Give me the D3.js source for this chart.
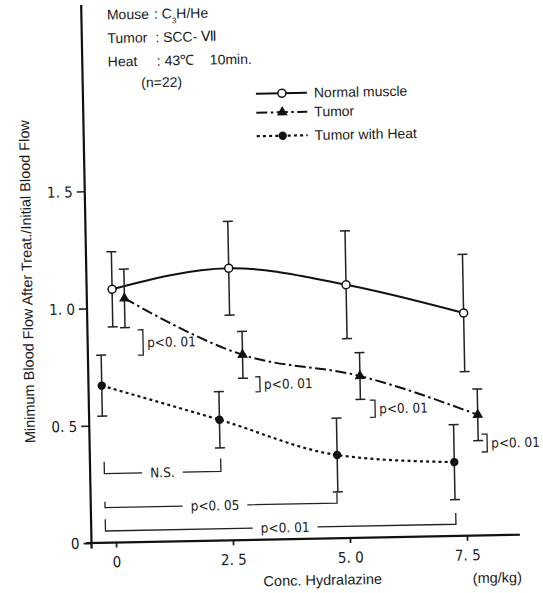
<!DOCTYPE html>
<html>
<head>
<meta charset="utf-8">
<script src="https://cdn.jsdelivr.net/npm/d3@7"></script>
<style>
  html, body { margin: 0; padding: 0; background: #fff; }
  svg { display: block; }
  text { font-family: "Liberation Sans", Arial, Helvetica, sans-serif; fill: #1a1a1a; }
  .narrow { font-family: "Liberation Sans Narrow", "DejaVu Sans Condensed", "Liberation Sans", Arial, sans-serif; }
</style>
</head>
<body>
<svg id="chart" width="543" height="593"></svg>
<script>
// Hydralazine dose (mg/kg)
const doses = [0, 2.5, 5.0, 7.5];

// Minimum blood flow after treatment / initial blood flow (mean and SD)
const normalMean = [1.08, 1.16, 1.08, 0.95];
const normalSD   = [0.16, 0.20, 0.23, 0.25];
const tumorMean  = [1.04, 0.79, 0.69, 0.515];
const tumorSD    = [0.125, 0.10, 0.10, 0.11];
const heatMean   = [0.67, 0.515, 0.355, 0.315];
const heatSD     = [0.13, 0.12, 0.157, 0.16];

// Axis ticks
const xTicks = [0, 2.5, 5.0, 7.5];
const xTickLabels = ["0", "2. 5", "5. 0", "7. 5"];
const yTicks = [0, 0.5, 1.0, 1.5];
const yTickLabels = ["0", "0. 5", "1. 0", "1. 5"];

// Series names
const seriesNames = ["Normal muscle", "Tumor", "Tumor with Heat"];

// Significance marks beside the tumor points: [xLeft, xRight, yTop, yBottom]
const sideMarks = [
  [0.55, 0.66, 0.905, 0.797],
  [3.04, 3.14, 0.695, 0.631],
  [5.48, 5.59, 0.586, 0.513],
  [7.85, 7.97, 0.432, 0.356]
];
const sideLabel = "p<0. 01";

// Significance brackets under the heated-tumor points
const bracketLabels = ["N.S.", "p<0. 05", "p<0. 01"];
const bracketFrom = [-0.22, -0.22, -0.22];
const bracketTo   = [2.27, 4.74, 7.27];

const svg = d3.select("#chart");

// Whole plot is drawn slightly tilted, as on the printed sheet
const g = svg.append("g").attr("transform", "rotate(-1.1,116,542.5)");

const x = d3.scaleLinear().domain([0, 7.5]).range([116, 467]);
const y = d3.scaleLinear().domain([0, 1.5]).range([542.5, 190.75]);

// ---- axes ----
const yAxis = d3.axisLeft(y).tickValues(yTicks)
  .tickFormat((d, i) => yTickLabels[i]).tickSize(8).tickPadding(4).tickSizeOuter(0);
const yAxisG = g.append("g").attr("transform", "translate(91.5,0)").call(yAxis);
yAxisG.select(".domain").remove();
yAxisG.selectAll(".tick line").attr("stroke", "#222").attr("stroke-width", 1.6);
yAxisG.selectAll(".tick text").attr("class", "narrow")
  .style("font-size", "15px").attr("fill", "#1a1a1a").attr("dy", "0.35em");

const xAxis = d3.axisBottom(x).tickValues(xTicks)
  .tickFormat((d, i) => xTickLabels[i]).tickSize(5).tickPadding(9).tickSizeOuter(0);
const xAxisG = g.append("g").attr("transform", "translate(0,542.5)").call(xAxis);
xAxisG.select(".domain").remove();
xAxisG.selectAll(".tick line").attr("stroke", "#222").attr("stroke-width", 1.8);
xAxisG.selectAll(".tick text").attr("class", "narrow")
  .style("font-size", "15px").attr("fill", "#1a1a1a");

// axis lines
g.append("line").attr("x1", 91.5).attr("x2", 91.5).attr("y1", 4.5).attr("y2", 548)
  .attr("stroke", "#111").attr("stroke-width", 2.2);
g.append("line").attr("x1", 86).attr("x2", 520).attr("y1", 542.5).attr("y2", 542.5)
  .attr("stroke", "#111").attr("stroke-width", 2.2);

// axis titles
g.append("text")
  .attr("transform", "translate(32,280) rotate(-90)")
  .attr("text-anchor", "middle").attr("dy", "0.35em")
  .style("font-size", "14.5px")
  .text("Minimum Blood Flow After Treat./Initial Blood Flow");
g.append("text").attr("x", 322).attr("y", 589).attr("text-anchor", "middle")
  .style("font-size", "14.5px").text("Conc. Hydralazine");
g.append("text").attr("x", 472).attr("y", 590)
  .style("font-size", "14.5px").text("(mg/kg)");

// ---- experiment conditions ----
const info = g.append("g").style("font-size", "14px");
const r1 = info.append("text").attr("x", 117).attr("y", 19.5);
r1.append("tspan").text("Mouse");
r1.append("tspan").attr("x", 164).text(": C");
r1.append("tspan").attr("baseline-shift", "sub").style("font-size", "8px").text("3");
r1.append("tspan").text("H/He");
const r2 = info.append("text").attr("x", 117).attr("y", 43);
r2.append("tspan").text("Tumor");
r2.append("tspan").attr("x", 165).text(": SCC- \u2166");
const r3 = info.append("text").attr("x", 117).attr("y", 66.5);
r3.append("tspan").text("Heat");
r3.append("tspan").attr("x", 166).text(": 43\u2103");
r3.append("tspan").attr("x", 219).text("10min.");
info.append("text").attr("x", 150).attr("y", 88).text("(n=22)");

// ---- series ----
const series = [
  { name: seriesNames[0], mean: normalMean, sd: normalSD, shift: 0.02,
    dash: null, width: 2, marker: "open" },
  { name: seriesNames[1], mean: tumorMean, sd: tumorSD, shift: 0.28,
    dash: "11,3.5,2.5,3.5", width: 2, marker: "triangle" },
  { name: seriesNames[2], mean: heatMean, sd: heatSD, shift: -0.24,
    dash: "3,3.2", width: 2.2, marker: "dot" }
];

const line = d3.line()
  .x(d => x(d.dose))
  .y(d => y(d.v))
  .curve(d3.curveMonotoneX);

series.forEach(s => {
  const pts = doses.map((dd, i) => ({ dose: dd + s.shift, v: s.mean[i], e: s.sd[i] }));
  g.append("path").datum(pts)
    .attr("d", line).attr("fill", "none").attr("stroke", "#111")
    .attr("stroke-width", s.width).attr("stroke-dasharray", s.dash);

  const eb = g.append("g").attr("stroke", "#222").attr("stroke-width", 1.5);
  pts.forEach(p => {
    const cx = x(p.dose);
    eb.append("line").attr("x1", cx).attr("x2", cx)
      .attr("y1", y(p.v + p.e)).attr("y2", y(p.v - p.e));
    [p.v + p.e, p.v - p.e].forEach(v => {
      eb.append("line").attr("x1", cx - 5).attr("x2", cx + 5)
        .attr("y1", y(v)).attr("y2", y(v));
    });
  });

  pts.forEach(p => drawMarker(g, s.marker, x(p.dose), y(p.v)));
});

function drawMarker(sel, type, cx, cy) {
  if (type === "open") {
    sel.append("circle").attr("cx", cx).attr("cy", cy).attr("r", 4)
      .attr("fill", "#fff").attr("stroke", "#111").attr("stroke-width", 1.5);
  } else if (type === "dot") {
    sel.append("circle").attr("cx", cx).attr("cy", cy).attr("r", 4.2)
      .attr("fill", "#111");
  } else {
    sel.append("path")
      .attr("d", d3.symbol().type(d3.symbolTriangle).size(50)())
      .attr("transform", `translate(${cx},${cy})`).attr("fill", "#111");
  }
}

// ---- significance marks beside tumor points ----
const sm = g.append("g");
sideMarks.forEach(([xl, xr, yt, yb]) => {
  sm.append("path")
    .attr("d", `M${x(xl)},${y(yt)}H${x(xr)}V${y(yb)}H${x(xl)}`)
    .attr("fill", "none").attr("stroke", "#222").attr("stroke-width", 1.3);
  sm.append("text").attr("class", "narrow")
    .attr("x", x(xr) + 4).attr("y", y((yt + yb) / 2)).attr("dy", "0.36em")
    .style("font-size", "13.5px").text(sideLabel);
});

// ---- brackets below the heated-tumor points ----
const bracketBase = [0.295, 0.15, 0.05];
const bracketLeftTop = [0.345, 0.175, 0.10];
const bracketRightTop = [0.35, 0.195, 0.098];
const bracketTextAt = [1.02, 2.13, 3.62];

bracketLabels.forEach((lab, i) => {
  const yb = y(bracketBase[i]);
  const xl = x(bracketFrom[i]), xr = x(bracketTo[i]);
  const t = g.append("text").attr("class", "narrow")
    .attr("x", x(bracketTextAt[i])).attr("y", yb).attr("dy", "0.36em")
    .attr("text-anchor", "middle").style("font-size", "13.5px").text(lab);
  const w = t.node().getComputedTextLength();
  const tx = x(bracketTextAt[i]);
  const gap = 8;
  g.append("path")
    .attr("d", `M${xl},${y(bracketLeftTop[i])}V${yb}H${tx - w / 2 - gap}` +
               `M${tx + w / 2 + gap},${yb}H${xr}V${y(bracketRightTop[i])}`)
    .attr("fill", "none").attr("stroke", "#222").attr("stroke-width", 1.3);
});

// ---- legend ----
const legRows = [96.5, 115.5, 139];
const leg = g.append("g");
series.forEach((s, i) => {
  const ly = legRows[i];
  leg.append("line").attr("x1", 264.5).attr("x2", 315.5).attr("y1", ly).attr("y2", ly)
    .attr("stroke", "#111").attr("stroke-width", s.width)
    .attr("stroke-dasharray", s.dash);
  drawMarker(leg, s.marker, 290.5, ly);
  leg.append("text").attr("x", 322.5).attr("y", ly).attr("dy", "0.35em")
    .style("font-size", "14px").text(s.name);
});
</script>
</body>
</html>
